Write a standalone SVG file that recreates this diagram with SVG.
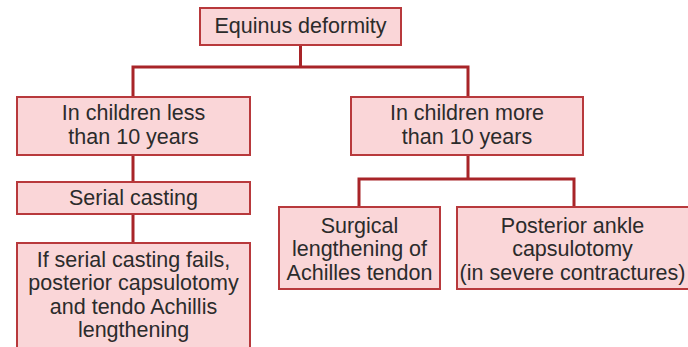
<svg xmlns="http://www.w3.org/2000/svg" width="688" height="347" viewBox="0 0 688 347">
<style>
.box{fill:#fad6d8;stroke:#b8393c;stroke-width:2}
.t{font-family:"Liberation Sans",Arial,sans-serif;font-size:21.5px;fill:#2b2b2b;text-anchor:middle}
.c{fill:none;stroke:#a82428;stroke-width:3}
</style>
<rect width="688" height="347" fill="#ffffff"/>
<g id="connectors">
<path class="c" d="M300.5 45V67M133 97V67H468V97"/>
<path class="c" d="M133 155V182M133 214V243"/>
<path class="c" d="M468 155V179M359 207V179H574V207"/>
</g>
<g id="n1"><rect class="box" x="200" y="8" width="201" height="37"/><text class="t" x="300.5" y="33">Equinus deformity</text></g>
<g id="n2"><rect class="box" x="17" y="97" width="233" height="58"/><text class="t" x="133.5" y="120">In children less</text><text class="t" x="133.5" y="144">than 10 years</text></g>
<g id="n3"><rect class="box" x="17" y="182" width="233" height="32"/><text class="t" x="133.5" y="205">Serial casting</text></g>
<g id="n4"><rect class="box" x="17" y="243" width="233" height="110"/><text class="t" x="133.5" y="267">If serial casting fails,</text><text class="t" x="133.5" y="290.3">posterior capsulotomy</text><text class="t" x="133.5" y="313.6">and tendo Achillis</text><text class="t" x="133.5" y="336.9">lengthening</text></g>
<g id="n5"><rect class="box" x="351" y="97" width="232" height="58"/><text class="t" x="467" y="120">In children more</text><text class="t" x="467" y="144">than 10 years</text></g>
<g id="n6"><rect class="box" x="279" y="207" width="161" height="82"/><text class="t" x="359.5" y="232.5">Surgical</text><text class="t" x="359.5" y="256">lengthening of</text><text class="t" x="359.5" y="279.5">Achilles tendon</text></g>
<g id="n7"><rect class="box" x="457" y="207" width="233" height="82"/><text class="t" x="572.5" y="232.5">Posterior ankle</text><text class="t" x="572.5" y="256">capsulotomy</text><text class="t" x="572.5" y="279.5">(in severe contractures)</text></g>
</svg>
